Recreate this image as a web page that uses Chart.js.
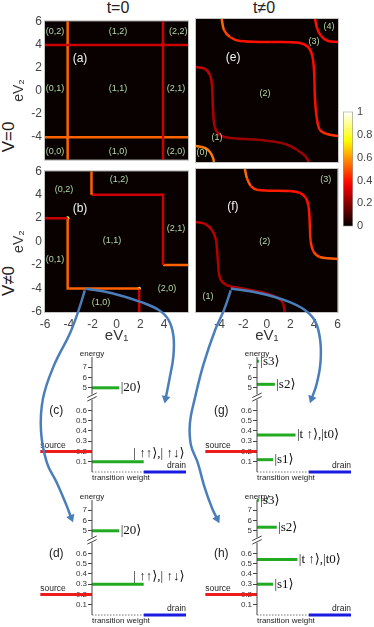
<!DOCTYPE html>
<html>
<head>
<meta charset="utf-8">
<title>stability diagrams</title>
<script src="https://cdn.jsdelivr.net/npm/chart.js@4.4.1/dist/chart.umd.min.js"></script>
<style>
  body { margin: 0; width: 374px; height: 627px; overflow: hidden; position: relative; background: #fff;
         font-family: "Liberation Sans", Arial, sans-serif; color: #222; }
  canvas { position: absolute; }
  .t { position: absolute; white-space: nowrap; transform: translate(-50%, -50%); }
  .r { transform: translate(-50%, -50%) rotate(-90deg); }
</style>
</head>
<body>
<div class="t" style="left:118px;top:8px;font-size:16px">t=0</div>
<div class="t" style="left:264px;top:8px;font-size:16px">t≠0</div>
<div class="t r" style="left:9px;top:137px;font-size:17px">V=0</div>
<div class="t r" style="left:9px;top:281px;font-size:17px">V≠0</div>
<script>
// ---------- values ----------
// heat maps: resonance lines as [eV1, eV2] points, weights on the 0..1 colour scale
const panelTicks = [-6, -4, -2, 0, 2, 4, 6];
const colorTicks = [0, 0.2, 0.4, 0.6, 0.8, 1];

// (a) t=0, V=0
const aTop    = [[-6, 3.95], [6, 3.95]];
const aRight  = [[3.9, -6], [3.9, 6]];
const aLeft   = [[-4.1, -6], [-4.1, 6]];
const aBottom = [[-6, -4.05], [6, -4.05]];
const aCross  = [[-4.1, 3.95], [3.9, 3.95], [-4.1, -4.05], [3.9, -4.05]];

// (b) t=0, V≠0
const bLowStart = [[-6, 2], [-4.1, 2]];
const bLowMid   = [[-4.1, 2], [-4.1, -4], [1.9, -4]];
const bLowEnd   = [[1.9, -4], [1.9, -6]];
const bUpStart  = [[-2.1, 6], [-2.1, 4]];
const bUpMid    = [[-2.1, 4], [3.9, 4], [3.9, -2]];
const bUpEnd    = [[3.9, -2], [6, -2]];
const bCross    = [[-4.1, 2], [1.9, -4]];

const wRed = 0.3, wOrange = 0.52, wCross = 0.85;

// (e) t≠0, V=0
const eUpper  = [[-3.83, 6.0], [-3.63, 5.08], [-3.13, 4.49], [-2.28, 4.15], [0.26, 4.07], [2.79, 3.99], [3.47, 3.65],
                 [3.81, 2.98], [3.97, 1.72], [4.06, -0.8], [4.23, -2.47], [4.48, -3.31], [5.07, -3.65], [6.0, -3.82]];
const eUpperW = [0.55, 0.5, 0.45, 0.41, 0.39, 0.39, 0.39, 0.39, 0.39, 0.39, 0.4, 0.42, 0.45, 0.46];
const eCorner = [[4.06, 6.0], [4.23, 5.24], [4.57, 4.57], [5.16, 4.15], [6.0, 4.07]];
const eCornerW = [0.4, 0.4, 0.39, 0.39, 0.39];
const eLower  = [[-6, 1.97], [-5.24, 1.81], [-4.82, 1.3], [-4.65, 0.46], [-4.56, -1.63], [-4.39, -3.14], [-3.97, -3.73],
                 [-3.13, -3.98], [-0.59, -4.15], [1.52, -4.49], [2.54, -4.99], [3.21, -5.49], [3.55, -6.0]];
const eLowerW = [0.3, 0.3, 0.28, 0.27, 0.26, 0.25, 0.24, 0.23, 0.22, 0.22, 0.23, 0.24, 0.25];
const eZero   = [[-6, -4.65], [-5.24, -4.82], [-4.82, -5.16], [-4.56, -5.66], [-4.48, -6.0]];
const eZeroW  = [0.55, 0.55, 0.55, 0.55, 0.55];

// (f) t≠0, V≠0
const fUpper  = [[-1.86, 6.0], [-1.69, 5.24], [-1.35, 4.57], [-0.76, 4.24], [1.95, 4.15], [2.79, 3.99], [3.3, 3.57],
                 [3.55, 2.73], [3.64, 1.3], [3.72, -0.12], [3.97, -0.96], [4.48, -1.38], [6.0, -1.55]];
const fUpperW = [0.55, 0.52, 0.48, 0.43, 0.4, 0.39, 0.39, 0.4, 0.42, 0.44, 0.46, 0.5, 0.52];
const fLower  = [[-6, 1.55], [-5.24, 1.39], [-4.65, 0.88], [-4.31, 0.04], [-4.14, -1.8], [-3.97, -3.14], [-3.46, -3.73],
                 [-2.28, -3.98], [-0.17, -4.4], [0.93, -4.82], [1.35, -5.24], [1.52, -6.0]];
const fLowerW = [0.28, 0.28, 0.27, 0.26, 0.26, 0.26, 0.26, 0.25, 0.25, 0.25, 0.25, 0.25];

// energy diagrams: level energies and their transition weights
const energyTicks = [0.1, 0.2, 0.3, 0.4, 0.5, 0.6, 5, 6, 7];
const cLevels = [5, 0.1],   cWeights = [0.29, 0.55];
const dLevels = [5, 0.3],   dWeights = [0.29, 0.55];
const gLevels = [7.58, 5.34, 0.36, 0.12], gWeights = [0.02, 0.19, 0.41, 0.17];
const hLevels = [7.97, 5.35, 0.54, 0.30], hWeights = [0.02, 0.21, 0.43, 0.17];
const cKets = ['|20⟩', '| ↑↑⟩,| ↑↓⟩'];
const gKets = ['|s3⟩', '|s2⟩', '|t ↑⟩,|t0⟩', '|s1⟩'];
const sourceLevel = 0.2, sourceReach = -0.55, drainFrom = 0.55;

// blue connector arrows (page pixels)
const blueToC = [[82, 288], [110, 293], [140, 302], [158, 310], [168, 320], [173, 336], [173, 357], [169, 380], [165, 400]];
const blueToD = [[82, 290], [76, 309], [67, 333], [50, 367], [39, 400], [37, 433], [43, 465], [53, 485], [63, 508], [68, 521]];
const blueToG = [[232, 288], [262, 293], [290, 301], [308, 310], [319, 322], [324, 342], [324, 365], [320, 386], [315, 400]];
const blueToH = [[232, 290], [225, 310], [216, 330], [204, 365], [195, 400], [190, 425], [191, 447], [198, 465], [205, 490], [213, 512], [218, 522]];

// ---------- helpers ----------
Chart.defaults.font.family = "'Liberation Sans', Arial, sans-serif";
Chart.defaults.color = '#333';

function hot(v) {
  const r = Math.min(1, v / 0.375);
  const g = Math.min(1, Math.max(0, (v - 0.375) / 0.375));
  const b = Math.max(0, (v - 0.75) / 0.25);
  return 'rgb(' + Math.round(r * 255) + ',' + Math.round(g * 255) + ',' + Math.round(b * 255) + ')';
}
// broken energy axis: low part as is, upper part squeezed above the break
function toAxis(e) { return e < 1 ? e : 0.82 + (e - 5) * 0.1; }
const pts = arr => arr.map(([x, y]) => ({ x, y }));

const notes = {
  id: 'notes',
  afterDatasetsDraw(chart, args, opts) {
    const { ctx, scales: { x, y } } = chart;
    (opts.items || []).forEach(n => {
      ctx.save();
      ctx.font = n.font;
      ctx.fillStyle = n.color || '#222';
      ctx.textAlign = n.align || 'center';
      ctx.textBaseline = 'middle';
      ctx.fillText(n.t, x.getPixelForValue(n.x), y.getPixelForValue(n.y));
      ctx.restore();
    });
  }
};
Chart.register(notes);

const panelFrame = {
  id: 'panelFrame',
  beforeDatasetsDraw(chart) {
    const { ctx, chartArea: a } = chart;
    ctx.save();
    ctx.fillStyle = '#090000';
    ctx.fillRect(a.left, a.top, a.width, a.height);
    ctx.restore();
  },
  afterDraw(chart) {
    const { ctx, chartArea: a } = chart;
    ctx.save();
    ctx.strokeStyle = '#c4c4c4';
    ctx.lineWidth = 1;
    ctx.strokeRect(a.left - 0.5, a.top - 0.5, a.width + 1, a.height + 1);
    ctx.restore();
  }
};

function mk(left, top, w, h, config) {
  const c = document.createElement('canvas');
  c.width = w; c.height = h;
  c.style.left = left + 'px'; c.style.top = top + 'px';
  document.body.appendChild(c);
  config.options.responsive = false;
  config.options.animation = false;
  config.options.events = [];
  return new Chart(c, config);
}

function line(arr, w) {
  return { data: pts(arr), showLine: true, borderColor: hot(w), borderWidth: 2.5, pointRadius: 0, tension: 0 };
}
function curve(arr, ws) {
  return { data: pts(arr), showLine: true, borderWidth: 2.5, pointRadius: 0, tension: 0.35,
           borderColor: hot(ws[0]),
           segment: { borderColor: c => hot((ws[c.p0DataIndex] + ws[c.p1DataIndex]) / 2) } };
}
function dots(arr, w) {
  return { data: pts(arr), showLine: false, pointRadius: 1.8, pointBackgroundColor: hot(w), pointBorderWidth: 0 };
}

const rl = (t, x, y) => ({ t, x, y, font: '9px "Liberation Sans"', color: '#b4d9a4' });
const pl = (t, x, y) => ({ t, x, y, font: '12px "Liberation Sans"', color: '#f2f2f2' });

function heatPanel(left, top, opt) {
  const w = opt.yTicks ? 196 : 158;
  const h = opt.xTicks ? 184 : 159;
  const x = {
    type: 'linear', min: -6, max: 6, display: !!opt.xTicks,
    afterBuildTicks: s => { s.ticks = (opt.xTicks || []).map(v => ({ value: v })); },
    grid: { display: false, drawTicks: false }, border: { display: false },
    ticks: { padding: 5, color: '#444', font: { size: 12 }, maxRotation: 0, autoSkip: false },
    title: { display: true, text: 'eV₁', color: '#333', font: { size: 15 }, padding: 0 }
  };
  if (opt.xTicks) x.afterFit = s => { s.height = 33; };
  const y = {
    type: 'linear', min: -6, max: 6, display: !!opt.yTicks,
    afterBuildTicks: s => { s.ticks = (opt.yTicks || []).map(v => ({ value: v })); },
    grid: { display: false, drawTicks: false }, border: { display: false },
    ticks: { padding: 3, color: '#444', font: { size: 12 }, autoSkip: false },
    title: { display: true, text: 'eV₂', color: '#333', font: { size: 14 }, padding: { top: 11, bottom: 0 } }
  };
  if (opt.yTicks) y.afterFit = s => { s.width = 45; };
  return mk(left, top, w, h, {
    type: 'scatter',
    data: { datasets: opt.datasets },
    options: {
      layout: { padding: { left: opt.yTicks ? 0 : 8, right: 8, top: 8, bottom: opt.xTicks ? 0 : 8 } },
      plugins: { legend: { display: false }, tooltip: { enabled: false }, notes: { items: opt.labels } },
      scales: { x, y }
    },
    plugins: [panelFrame]
  });
}

// ---------- heat map panels ----------
heatPanel(0, 11, {
  yTicks: [-4, -2, 0, 2, 4, 6],
  datasets: [line(aTop, wRed), line(aRight, wRed), line(aLeft, wOrange), line(aBottom, wOrange), dots(aCross, wCross)],
  labels: [rl('(0,2)', -5.16, 5.08), rl('(1,2)', 0.13, 5.08), rl('(2,2)', 5.18, 5.08),
           rl('(0,1)', -5.16, 0.13), rl('(1,1)', 0.13, 0.13), rl('(2,1)', 5.0, 0.13),
           rl('(0,0)', -5.16, -5.24), rl('(1,0)', 0.13, -5.24), rl('(2,0)', 5.0, -5.24),
           pl('(a)', -3.06, 2.73)]
});

heatPanel(0, 161, {
  yTicks: panelTicks, xTicks: [-6, -4, -2, 0, 2, 4],
  datasets: [line(bLowStart, wRed), line(bLowMid, wOrange), line(bLowEnd, wRed),
             line(bUpStart, wOrange), line(bUpMid, wRed), line(bUpEnd, wOrange), dots(bCross, wCross)],
  labels: [rl('(0,2)', -4.41, 4.41), rl('(1,2)', 0.21, 5.25), rl('(1,1)', -0.38, 0.13), rl('(2,1)', 4.99, 1.13),
           rl('(0,1)', -5.16, -1.55), rl('(2,0)', 4.23, -3.98), rl('(1,0)', -1.3, -5.16), pl('(b)', -3.06, 2.81)]
});

heatPanel(188, 11, {
  datasets: [curve(eUpper, eUpperW), curve(eCorner, eCornerW), curve(eLower, eLowerW), curve(eZero, eZeroW)],
  labels: [rl('(2)', -0.17, -0.29), rl('(3)', 3.97, 4.07), rl('(4)', 5.24, 5.41), rl('(1)', -4.22, -3.98),
           rl('(0)', -5.49, -5.24), pl('(e)', -2.87, 2.73)]
});

heatPanel(188, 161, {
  xTicks: [-4, -2, 0, 2, 4, 6],
  datasets: [curve(fUpper, fUpperW), curve(fLower, fLowerW)],
  labels: [rl('(2)', -0.17, -0.12), rl('(3)', 4.99, 5.08), rl('(1)', -4.99, -4.74), pl('(f)', -2.87, 2.81)]
});

// ---------- colour bar ----------
mk(343, 101, 31, 136, {
  type: 'bar',
  data: {
    labels: [''],
    datasets: [{
      data: [1],
      backgroundColor: c => {
        const a = c.chart.chartArea;
        if (!a) return '#000';
        const g = c.chart.ctx.createLinearGradient(0, a.bottom, 0, a.top);
        for (let i = 0; i <= 20; i++) g.addColorStop(i / 20, hot(i / 20));
        return g;
      },
      borderColor: '#999', borderWidth: 1, borderSkipped: false,
      barPercentage: 1, categoryPercentage: 1
    }]
  },
  options: {
    layout: { padding: { top: 8, bottom: 8, left: 0, right: 0 } },
    plugins: { legend: { display: false }, tooltip: { enabled: false } },
    scales: {
      x: { display: false },
      y: {
        position: 'right', min: 0, max: 1,
        afterBuildTicks: s => { s.ticks = colorTicks.map(v => ({ value: v })); },
        afterFit: s => { s.width = 21; },
        grid: { display: false, drawTicks: false }, border: { display: false },
        ticks: { padding: 4, color: '#444', font: { size: 11 },
                 callback: v => (v === 0 || v === 1 ? String(v) : v.toFixed(1)) }
      }
    }
  }
});

// ---------- energy diagrams ----------
function diagram(axisX, baseY, tag, levels, weights, kets, pairAbove) {
  const seg = (arr, color, width, dash) => ({ data: pts(arr), showLine: true, borderColor: color, borderWidth: width,
                                               borderDash: dash || [], pointRadius: 0, clip: false });
  const src = toAxis(sourceLevel);
  const datasets = [
    seg([[0, 0], [0, 0.705]], '#444', 1),
    seg([[0, 0.755], [0, 1.12]], '#444', 1),
    seg([[-0.05, 0.69], [0.05, 0.735]], '#444', 1),
    seg([[-0.05, 0.725], [0.05, 0.77]], '#444', 1),
    seg([[0, 0], [drainFrom, 0]], '#777', 1, [1.5, 1.5]),
    seg([[drainFrom, 0], [1, 0]], '#1a1ae0', 3),
    seg([[sourceReach, src], [0, src]], '#ee1b1b', 3)
  ];
  levels.forEach((e, i) => datasets.push(seg([[0, toAxis(e)], [weights[i], toAxis(e)]], '#22aa22', 3)));

  const sm = '8px "Liberation Sans"';
  const items = [
    { t: 'energy', x: 0, y: 1.155, font: sm },
    { t: tag, x: -0.38, y: 0.6, font: '12px "Liberation Sans"' },
    { t: 'source', x: sourceReach, y: src + 0.06, font: '8.5px "Liberation Sans"', align: 'left' },
    { t: 'drain', x: 1, y: 0.06, font: '8.5px "Liberation Sans"', align: 'right' },
    { t: 'transition weight', x: 0, y: -0.06, font: sm, align: 'left' }
  ];
  levels.forEach((e, i) => {
    const above = pairAbove && i === levels.length - 1;
    items.push({ t: kets[i], x: above ? 0.44 : weights[i] + 0.015, y: toAxis(e) + (above ? 0.075 : 0),
                 font: '13px "Liberation Serif", "DejaVu Serif", serif', align: 'left', color: '#111' });
  });

  return mk(axisX - 56, baseY - 127, 154, 141, {
    type: 'scatter',
    data: { datasets },
    options: {
      layout: { padding: { left: 0, right: 4, top: 12, bottom: 14 } },
      plugins: { legend: { display: false }, tooltip: { enabled: false }, notes: { items } },
      scales: {
        x: { type: 'linear', min: 0, max: 1, display: false },
        y: {
          type: 'linear', min: 0, max: 1.12,
          afterFit: s => { s.width = 56; },
          afterBuildTicks: s => { s.ticks = energyTicks.map(e => ({ value: toAxis(e) })); },
          grid: { drawOnChartArea: false, drawTicks: true, tickLength: 4, color: '#444' },
          border: { display: false },
          ticks: { callback: (v, i) => String(energyTicks[i]), font: { size: 8 }, color: '#333', padding: 1, autoSkip: false }
        }
      }
    }
  });
}

diagram(92, 472, '(c)', cLevels, cWeights, cKets, true);
diagram(92, 615, '(d)', dLevels, dWeights, cKets, true);
diagram(257, 472, '(g)', gLevels, gWeights, gKets, false);
diagram(257, 615, '(h)', hLevels, hWeights, gKets, false);

// ---------- blue connector arrows, on a page-sized overlay ----------
function arrow(arr) {
  const n = arr.length;
  const [x1, y1] = arr[n - 2], [x2, y2] = arr[n - 1];
  const ang = Math.atan2(x2 - x1, -(y2 - y1)) * 180 / Math.PI;
  return { data: pts(arr), showLine: true, borderColor: '#4a7ebb', borderWidth: 2.5, tension: 0.4, clip: false,
           pointRadius: arr.map((_, i) => (i === n - 1 ? 5 : 0)), pointStyle: 'triangle', rotation: ang,
           pointBackgroundColor: '#4a7ebb', pointBorderWidth: 0 };
}
mk(0, 0, 374, 627, {
  type: 'scatter',
  data: { datasets: [arrow(blueToC), arrow(blueToD), arrow(blueToG), arrow(blueToH)] },
  options: {
    layout: { padding: 0 },
    plugins: { legend: { display: false }, tooltip: { enabled: false } },
    scales: {
      x: { type: 'linear', min: 0, max: 374, display: false },
      y: { type: 'linear', min: 0, max: 627, reverse: true, display: false }
    }
  }
});
</script>
</body>
</html>
